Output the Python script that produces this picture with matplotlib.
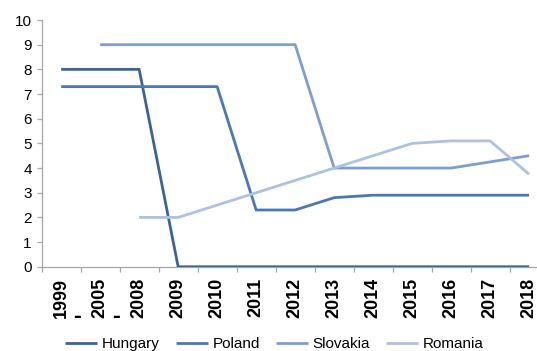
import numpy as np
import matplotlib
matplotlib.use("Agg")
import matplotlib.pyplot as plt

plt.rcParams['font.family'] = ['Liberation Sans', 'DejaVu Sans']

# periods on the x axis; the first two are ranges ("1999 -", "2005 -")
years = ['1999', '2005', '2008', '2009', '2010', '2011', '2012',
         '2013', '2014', '2015', '2016', '2017', '2018']
range_start = ['1999', '2005']

hungary = [8, 8, 8, 0, 0, 0, 0, 0, 0, 0, 0, 0, 0]
poland = [7.3, 7.3, 7.3, 7.3, 7.3, 2.3, 2.3, 2.8, 2.9, 2.9, 2.9, 2.9, 2.9]
slovakia = [np.nan, 9, 9, 9, 9, 9, 9, 4, 4, 4, 4, 4.25, 4.5]
romania = [np.nan, np.nan, 2, 2, 2.5, 3, 3.5, 4, 4.5, 5, 5.1, 5.1, 3.75]

series = [('Hungary', hungary, '#3a6498'),
          ('Poland', poland, '#4a78b5'),
          ('Slovakia', slovakia, '#7d9ed1'),
          ('Romania', romania, '#adc1e0')]

fig = plt.figure(figsize=(5.37, 3.51), dpi=100)
# plot area runs a little past the right edge of the figure
ax = fig.add_axes([0.0776, 0.240, 0.944, 0.703])

x = np.arange(len(years))
for name, vals, col in series:
    ax.plot(x, vals, color=col, lw=2.0, label=name, solid_capstyle='butt',
            zorder=3)

ax.set_xlim(-0.5, len(years) - 0.5)
ax.set_ylim(0, 10)
ax.set_yticks(range(0, 11))

gray = '#a6a6a6'
for s in ['top', 'right']:
    ax.spines[s].set_visible(False)
for s in ['left', 'bottom']:
    ax.spines[s].set_color(gray)
    ax.spines[s].set_linewidth(0.9)

ax.tick_params(axis='y', length=3.6, width=0.9, color=gray, pad=3.6,
               labelsize=11, labelcolor='black')

# tick marks between categories, labels at category centres
ax.set_xticks(x)
ax.set_xticklabels(years, rotation=90, fontsize=13, fontweight='heavy')
ax.set_xticks(np.arange(-0.5, len(years), 1), minor=True)
ax.tick_params(axis='x', which='major', length=0, pad=8)
ax.tick_params(axis='x', which='minor', length=3.6, width=0.9, color=gray)

# trailing dash of the range labels
for i, yr in enumerate(years):
    if yr in range_start:
        ax.annotate('-', xy=(i, 0), xycoords=('data', 'axes fraction'),
                    xytext=(15.8, -49.5), textcoords='offset pixels',
                    ha='center', va='center',
                    fontsize=17, fontweight='heavy')

fig.legend(loc='center', bbox_to_anchor=(0.511, 0.019), ncol=4,
           frameon=False, fontsize=11, handlelength=2.1,
           handletextpad=0.3, columnspacing=1.05)

fig.savefig('out.png', dpi=100)
